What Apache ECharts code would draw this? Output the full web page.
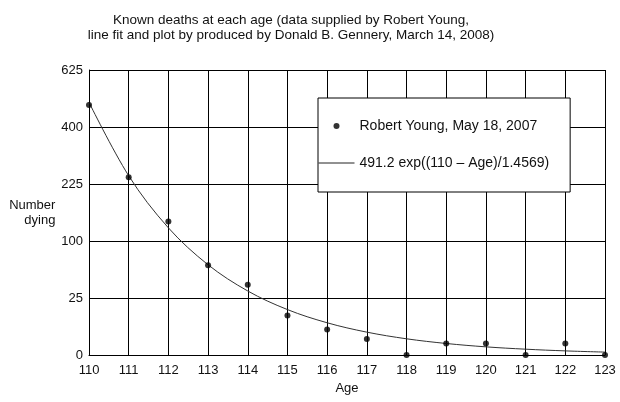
<!DOCTYPE html>
<html>
<head>
<meta charset="utf-8">
<script src="https://cdn.jsdelivr.net/npm/echarts@6/dist/echarts.min.js"></script>
<style>html,body{margin:0;padding:0;background:#fff}#c{width:620px;height:402px}</style>
</head>
<body>
<div id="c"></div>
<script>
// ---- data ----
const titleText = 'Known deaths at each age (data supplied by Robert Young,\nline fit and plot by produced by Donald B. Gennery, March 14, 2008)';
const ages = [110, 111, 112, 113, 114, 115, 116, 117, 118, 119, 120, 121, 122, 123];
const deaths = [481, 243, 137, 62, 38, 12, 5, 2, 0, 1, 1, 0, 1, 0];
// fitted curve 491.2 exp((110 - Age)/1.4569), evaluated at each age
const fitValues = [491.2, 247.25, 124.46, 62.65, 31.53, 15.87, 7.99, 4.02, 2.02, 1.02, 0.51, 0.26, 0.13, 0.065];
const yTicks = [0, 25, 100, 225, 400, 625];
const pointsName = 'Robert Young, May 18, 2007';
const fitName = '491.2 exp((110 \u2013 Age)/1.4569)';
const xName = 'Age';
const yName = 'Number\ndying';

// ---- chart (square-root y scale) ----
const FONT = 'Liberation Sans, Arial, sans-serif';
const sq = v => Math.sqrt(v);
const chart = echarts.init(document.getElementById('c'), null, {renderer: 'canvas'});
chart.setOption({
  animation: false,
  backgroundColor: '#fff',
  textStyle: {fontFamily: FONT, color: '#000'},
  title: {
    text: titleText,
    left: 291, top: 13, padding: 0, textAlign: 'center',
    textStyle: {fontFamily: FONT, fontSize: 13.5, fontWeight: 'normal', color: '#111', lineHeight: 15}
  },
  grid: {left: 89, right: 15, top: 70, bottom: 47, containLabel: false},
  legend: {
    orient: 'vertical', left: 318, top: 98,
    padding: [20, 21, 21, 0],
    itemWidth: 36, itemHeight: 6, itemGap: 21,
    backgroundColor: '#fff', borderColor: '#000', borderWidth: 1, borderRadius: 0,
    textStyle: {fontFamily: FONT, fontSize: 14, color: '#111', lineHeight: 16},
    data: [
      {name: pointsName, icon: 'circle'},
      {name: fitName, itemStyle: {opacity: 0}, lineStyle: {color: '#222', width: 1, opacity: 1}}
    ]
  },
  xAxis: {
    type: 'value', min: 110, max: 123, interval: 1,
    name: xName, nameLocation: 'middle', nameGap: 22,
    nameTextStyle: {fontFamily: FONT, fontSize: 13, color: '#111'},
    axisLine: {lineStyle: {color: '#000', width: 1}},
    axisTick: {show: false},
    axisLabel: {fontFamily: FONT, fontSize: 13, color: '#111', margin: 9},
    splitLine: {show: true, lineStyle: {color: '#000', width: 1}}
  },
  yAxis: {
    type: 'value', min: 0, max: sq(yTicks[yTicks.length - 1]), interval: 5,
    name: yName, nameLocation: 'middle', nameRotate: 0, nameGap: 33,
    nameTextStyle: {fontFamily: FONT, fontSize: 13, color: '#111', lineHeight: 15, align: 'right'},
    axisLine: {show: true, lineStyle: {color: '#000', width: 1}},
    axisTick: {show: false},
    axisLabel: {fontFamily: FONT, fontSize: 13, color: '#111', margin: 6,
      formatter: v => String(Math.round(v * v))},
    splitLine: {show: true, lineStyle: {color: '#000', width: 1}}
  },
  series: [
    {
      name: fitName, type: 'line', smooth: 0.35, symbol: 'none',
      lineStyle: {color: '#333', width: 1}, itemStyle: {color: '#333'},
      data: ages.map((a, i) => [a, sq(fitValues[i])]), z: 3
    },
    {
      name: pointsName, type: 'scatter', symbol: 'circle', symbolSize: 6, clip: false,
      itemStyle: {color: '#000'},
      data: ages.map((a, i) => [a, sq(deaths[i])]), z: 4
    }
  ]
});
</script>
</body>
</html>
